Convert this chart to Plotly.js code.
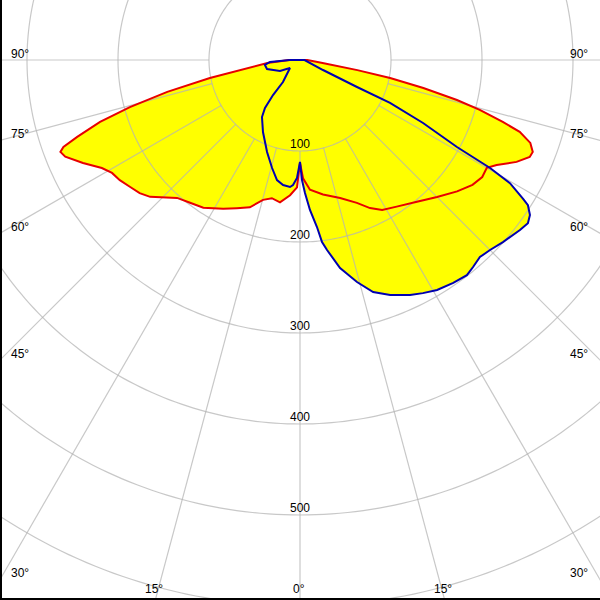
<!DOCTYPE html>
<html><head><meta charset="utf-8">
<script src="https://cdn.plot.ly/plotly-3.0.1.min.js"></script>
<style>
html,body{margin:0;padding:0;background:#fff;}
#wrap{position:relative;width:600px;height:600px;overflow:hidden;}
#plot{position:absolute;left:-400px;top:-640px;width:1400px;height:1400px;}
</style></head><body>
<div id="wrap"><div id="plot"></div></div>
<script>
// Polar intensity curves (theta: 0 = straight down, + = right side, - = left side)
const redTheta = [-90, -84.8, -78.7, -76.5, -74.5, -72.8, -70.95, -69.8, -69.0, -67.6, -64.6, -61.4, -59.0, -56.3, -53.2, -50.3, -47.6, -41.7, -37.6, -33.2, -27.3, -23.1, -18.8, -14.8, -11.5, -8.0, -4.2, -1.35, 0, 1.46, 4.4, 9.7, 16.2, 21.7, 25.3, 28.7, 33.4, 39.5, 45, 50.1, 54.1, 57.3, 60.0, 61.9, 64.8, 67.1, 68.45, 70.2, 71.9, 73.0, 74.5, 75.7, 77.2, 78.7, 80.0, 82.6, 90];
const redR = [12, 36, 101, 150, 194, 230, 259, 277, 282, 279, 264, 248, 241, 238, 233, 229, 223, 203, 198, 194, 184, 177, 171, 159, 155, 158, 149, 140, 113, 130, 143, 150, 158, 169, 180, 188, 193, 202, 213, 225, 234, 238, 237, 245, 263, 274, 275, 269, 254, 233, 205, 178, 139, 101, 64, 25, 8];

const blueTheta = [-90, -86.2, -81.9, -74.7, -61.2, -51.3, -37.7, -37.6, -36.1, -33.7, -27.2, -19.7, -14.5, -10.85, -7.7, -4.5, -3.2, -1.46, 0, 0.95, 2.15, 3.8, 5.8, 6.9, 8.1, 10.9, 14.4, 17.5, 21.0, 25.1, 27.8, 30.8, 34.5, 37.8, 39.9, 42.4, 45, 48.1, 52.3, 54.4, 56.0, 57.5, 58.1, 59.6, 60.4, 61.0, 62.9, 64.5, 64.65, 66.5, 90];
const blueR = [11, 33, 39, 37.6, 25.1, 14.1, 30.6, 48.6, 65.3, 75.3, 89, 107.4, 122.6, 134.3, 138.6, 140, 137.6, 129.7, 112, 131.9, 146.3, 165.2, 184.5, 201.5, 210.9, 232.8, 251.9, 267.3, 276.5, 285.1, 289.6, 294.2, 297.3, 299.2, 296.5, 293.2, 295.3, 299.6, 305.5, 308, 304.8, 297, 288.8, 267.5, 240.2, 197.2, 151.9, 109.6, 69.3, 27.6, 5];

const radialTicks = [100, 200, 300, 400, 500];
const radialTickLabels = ['100', '200', '300', '400', '500'];
const gridCircles = [100, 200, 300, 400, 500, 600, 700];
const spokeAngles = [-90, -75, -60, -45, -30, -15, 0, 15, 30, 45, 60, 75, 90];
const angleLabels = ['90°', '75°', '60°', '45°', '30°', '15°', '0°', '15°', '30°', '45°', '60°', '75°', '90°'];

// geometry of the clipped view
const W = 1400, H = 1400, OFFX = -400, OFFY = -640;
const RMAX = 700 / 0.91;
const px = x => (x - OFFX) / W;
const py = y => 1 - (y - OFFY) / H;

// label anchor positions in the 600x600 view
const labelPos = [
  [9, 54, 'left'], [9, 134, 'left'], [9, 227, 'left'], [9, 354, 'left'], [9, 573, 'left'],
  [154, 589, 'center'], [299, 589, 'center'], [443, 589, 'center'],
  [590, 573, 'right'], [590, 354, 'right'], [590, 227, 'right'], [590, 134, 'right'], [590, 54, 'right']
];

// semi-transparent grey: light grey on white, khaki on yellow
const gridCol = 'rgba(179,179,179,0.73)';
const font = {family: 'Liberation Sans, Arial, sans-serif', size: 12, color: '#000'};

// grid geometry (spokes start at the 100 circle)
const spokeT = [], spokeR = [];
spokeAngles.forEach(a => { spokeT.push(a, a, null); spokeR.push(100, RMAX, null); });
const circT = [], circR = [];
gridCircles.forEach(c => {
  for (let a = 0; a <= 360; a += 1) { circT.push(a); circR.push(c); }
  circT.push(null); circR.push(null);
});

const traces = [
  {type: 'scatterpolar', theta: redTheta, r: redR, mode: 'lines', fill: 'toself',
   fillcolor: '#ffff00', line: {width: 0, color: '#ffff00'}, hoverinfo: 'skip'},
  {type: 'scatterpolar', theta: blueTheta, r: blueR, mode: 'lines', fill: 'toself',
   fillcolor: '#ffff00', line: {width: 0, color: '#ffff00'}, hoverinfo: 'skip'},
  {type: 'scatterpolar', theta: circT, r: circR, mode: 'lines',
   line: {width: 1.2, color: gridCol}, hoverinfo: 'skip', connectgaps: false},
  {type: 'scatterpolar', theta: spokeT, r: spokeR, mode: 'lines',
   line: {width: 1.2, color: gridCol}, hoverinfo: 'skip', connectgaps: false},
  {type: 'scatterpolar', theta: redTheta.concat([redTheta[0]]), r: redR.concat([redR[0]]), mode: 'lines',
   line: {width: 2, color: '#e80000'}, hoverinfo: 'skip'},
  {type: 'scatterpolar', theta: blueTheta.concat([blueTheta[0]]), r: blueR.concat([blueR[0]]), mode: 'lines',
   line: {width: 2, color: '#0000b0'}, hoverinfo: 'skip'},
  {type: 'scatterpolar', theta: radialTicks.map(() => 0), r: radialTicks, mode: 'text',
   text: radialTickLabels, textposition: 'top center', textfont: font, hoverinfo: 'skip'}
];

const axisOff = {showgrid: false, showticklabels: false, showline: false, ticks: ''};
const layout = {
  width: W, height: H, margin: {l: 0, r: 0, t: 0, b: 0, pad: 0},
  paper_bgcolor: '#ffffff', showlegend: false,
  polar: {
    domain: {x: [0, 1], y: [0, 1]}, bgcolor: '#ffffff',
    radialaxis: Object.assign({range: [0, RMAX]}, axisOff),
    angularaxis: Object.assign({rotation: -90, direction: 'counterclockwise'}, axisOff)
  },
  annotations: angleLabels.map((t, i) => ({
    text: t, xref: 'paper', yref: 'paper', x: px(labelPos[i][0]), y: py(labelPos[i][1]),
    xanchor: labelPos[i][2], yanchor: 'middle', showarrow: false, font: font
  })),
  shapes: [
    {type: 'line', xref: 'paper', yref: 'paper', x0: px(1), x1: px(1), y0: py(0), y1: py(600), line: {color: '#000', width: 2}},
    {type: 'line', xref: 'paper', yref: 'paper', x0: px(0), x1: px(600), y0: py(599), y1: py(599), line: {color: '#000', width: 2}}
  ]
};

Plotly.newPlot('plot', traces, layout, {staticPlot: true, displayModeBar: false});
</script>
</body></html>
